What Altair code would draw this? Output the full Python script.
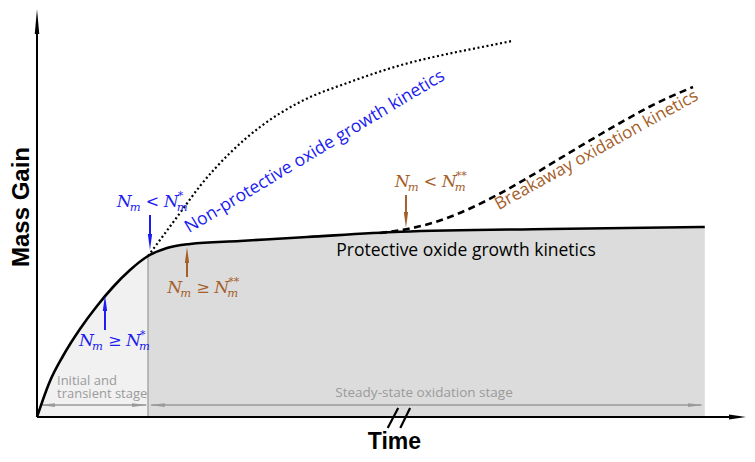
import altair as alt
import pandas as pd

# ---------------- data (arbitrary units: time, mass gain) ----------------
# Protective oxide growth curve (solid)
prot_t = [0, 1.86, 3.71, 6.14, 8.57, 10.86, 13.29, 15.86, 18.57, 21.86, 29, 38.6, 51.9, 73.3, 95.4]
prot_m = [0, 9.0, 15.25, 22.0, 27.75, 32.5, 36.75, 40.25, 42.25, 43.25, 44, 45, 46.3, 47, 47.5]
# Non-protective oxide growth (dotted)
nonprot_t = [15.86, 17.57, 20.43, 23.29, 27.57, 31.86, 37.57, 44.71, 51.86, 59, 63.3, 67.86]
nonprot_m = [40.25, 44.25, 51, 57.75, 66, 72.5, 78.75, 83.75, 87.9, 90.9, 92.4, 94]
# Breakaway oxidation (dashed)
brk_t = [49.0, 53.29, 57.57, 61.86, 66.14, 70.43, 74.71, 79.0, 83.29, 87.57, 93.71]
brk_m = [46.0, 47.13, 49.13, 52.13, 55.88, 60.13, 64.63, 69.13, 73.5, 77.63, 82.5]
stage_boundary = 15.86

# math-label anchors (left, baseline)
math_t = [11.4, 6.0, 18.6, 51.1]
math_m = [52.5, 17.8, 31.0, 57.5]
math_rel = ["<", "\u2265", "\u2265", "<"]
math_sup = ["*", "*", "**", "**"]
math_col = ["blue", "blue", "brown", "brown"]

BLUE = "#1c1cf0"
BROWN = "#a5602a"
GRAY = "#9a9a9a"
colmap = {"blue": BLUE, "brown": BROWN}

X_DOMAIN = [-4.143, 101.43]
Y_DOMAIN = [-9.25, 102.25]
xs = alt.Scale(domain=X_DOMAIN, nice=False, zero=False)
ys = alt.Scale(domain=Y_DOMAIN, nice=False, zero=False)


def X(f="t"):
    return alt.X(f"{f}:Q", scale=xs, axis=None)


def Y(f="m"):
    return alt.Y(f"{f}:Q", scale=ys, axis=None)


prot = pd.DataFrame({"t": prot_t, "m": prot_m})
light = prot[prot.t <= stage_boundary]
dark = prot[prot.t >= stage_boundary]
nonprot = pd.DataFrame({"t": nonprot_t, "m": nonprot_m})
brk = pd.DataFrame({"t": brk_t, "m": brk_m})

area_light = alt.Chart(light).mark_area(color="#f1f1f1", interpolate="monotone").encode(
    x=X(), y=Y(), y2=alt.datum(0))
area_dark = alt.Chart(dark).mark_area(color="#dcdcdc", interpolate="monotone").encode(
    x=X(), y=Y(), y2=alt.datum(0))

sep = alt.Chart(pd.DataFrame({"t": [stage_boundary], "m": [0], "m2": [40.2]})).mark_rule(
    color="#a8a8a8", strokeWidth=1.5).encode(x=X(), y=Y(), y2=alt.Y2("m2:Q"))

line_prot = alt.Chart(prot).mark_line(color="black", strokeWidth=2.6, interpolate="monotone").encode(
    x=X(), y=Y())
line_non = alt.Chart(nonprot).mark_line(color="black", strokeWidth=2.2, strokeDash=[2, 2.6],
                                        interpolate="monotone").encode(x=X(), y=Y())
line_brk = alt.Chart(brk).mark_line(color="black", strokeWidth=2.6, strokeDash=[7, 4.5],
                                    interpolate="monotone").encode(x=X(), y=Y())

# axes
axes = alt.Chart(pd.DataFrame({"t": [0, 0], "m": [0, 0], "t2": [0, 99.6], "m2": [97.5, 0]})).mark_rule(
    color="black", strokeWidth=2).encode(x=X(), y=Y(), x2=alt.X2("t2:Q"), y2=alt.Y2("m2:Q"))
head_up_axis = alt.Chart(pd.DataFrame({"t": [0], "m": [98.9]})).mark_point(
    shape="M0,-1L0.18,1L-0.18,1Z", size=625, filled=True, opacity=1, color="black", strokeWidth=0
).encode(x=X(), y=Y())
head_right_axis = alt.Chart(pd.DataFrame({"t": [100.07], "m": [0]})).mark_point(
    shape="M1,0L-1,0.3L-1,-0.3Z", size=289, filled=True, opacity=1, color="black", strokeWidth=0
).encode(x=X(), y=Y())

# axis break "//"
breaks = alt.Chart(pd.DataFrame({"t": [50.1, 51.9], "m": [-2.75, -2.75], "t2": [51.6, 53.3], "m2": [2.25, 2.25]})
                   ).mark_rule(color="black", strokeWidth=2.2).encode(
    x=X(), y=Y(), x2=alt.X2("t2:Q"), y2=alt.Y2("m2:Q"))

# stage double arrows (gray)
stage_rules = alt.Chart(pd.DataFrame({"t": [0.6, 16.3], "t2": [15.6, 94.9], "m": [3, 3]})).mark_rule(
    color=GRAY, strokeWidth=1.5).encode(x=X(), x2=alt.X2("t2:Q"), y=Y())
stage_left = alt.Chart(pd.DataFrame({"t": [1.5, 17.2], "m": [3, 3]})).mark_point(
    shape="M-1,0L1,-0.25L1,0.25Z", size=225, filled=True, opacity=1, color=GRAY, strokeWidth=0
).encode(x=X(), y=Y())
stage_right = alt.Chart(pd.DataFrame({"t": [14.64, 94.07], "m": [3, 3]})).mark_point(
    shape="M1,0L-1,-0.25L-1,0.25Z", size=225, filled=True, opacity=1, color=GRAY, strokeWidth=0
).encode(x=X(), y=Y())

# condition arrows
arr = pd.DataFrame({
    "t": [16.14, 9.71, 21.43, 52.71],
    "m": [50.5, 21.75, 35.0, 55.5],
    "m2": [44.5, 28.0, 40.0, 50.0],
    "head": [43.75, 28.5, 40.5, 49.25],
    "col": [BLUE, BLUE, BROWN, BROWN],
    "dir": ["down", "up", "up", "down"],
})
arrow_shafts = alt.Chart(arr).mark_rule(strokeWidth=2).encode(
    x=X(), y=Y(), y2=alt.Y2("m2:Q"), color=alt.Color("col:N", scale=None))
arrow_down = alt.Chart(arr[arr.dir == "down"]).mark_point(
    shape="M0,1L0.27,-1L-0.27,-1Z", size=256, filled=True, opacity=1, strokeWidth=0).encode(
    x=X(), y=Y("head"), color=alt.Color("col:N", scale=None))
arrow_up = alt.Chart(arr[arr.dir == "up"]).mark_point(
    shape="M0,-1L0.27,1L-0.27,1Z", size=256, filled=True, opacity=1, strokeWidth=0).encode(
    x=X(), y=Y("head"), color=alt.Color("col:N", scale=None))

# math labels  N_m < N_m^*
math = pd.DataFrame({"t": math_t, "m": math_m, "rel": math_rel, "sup": math_sup,
                     "col": [colmap[c] for c in math_col]})
SERIF = "DejaVu Serif"


def piece(text, dx, dy, size, italic=True, field=None):
    kw = dict(font=SERIF, fontSize=size, dx=dx, dy=dy, align="left", baseline="alphabetic")
    if italic:
        kw["fontStyle"] = "italic"
    if field is None:
        kw["text"] = text
        ch = alt.Chart(math).mark_text(**kw).encode(x=X(), y=Y(), color=alt.Color("col:N", scale=None))
    else:
        ch = alt.Chart(math).mark_text(**kw).encode(x=X(), y=Y(), text=f"{field}:N",
                                                    color=alt.Color("col:N", scale=None))
    return ch


math_layers = [
    piece("N", 0, 0, 17),
    piece("m", 13, 4, 11.5),
    piece(None, 29, 0, 16, italic=False, field="rel"),
    piece("N", 47, 0, 17),
    piece("m", 60, 4, 11.5),
    piece(None, 61, -8, 11, italic=False, field="sup"),
]

# text annotations
SANS = "Open Sans"
txt_non = alt.Chart(pd.DataFrame({"t": [40.07], "m": [65.25], "s": ["Non-protective oxide growth kinetics"]})
                    ).mark_text(font=SANS, fontSize=17.5, color=BLUE, angle=329, align="center",
                                baseline="alphabetic").encode(x=X(), y=Y(), text="s:N")
txt_brk = alt.Chart(pd.DataFrame({"t": [80.29], "m": [65.6], "s": ["Breakaway oxidation kinetics"]})
                    ).mark_text(font=SANS, fontSize=17, color=BROWN, angle=331, align="center",
                                baseline="alphabetic").encode(x=X(), y=Y(), text="s:N")
txt_prot = alt.Chart(pd.DataFrame({"t": [61.29], "m": [40.25], "s": ["Protective oxide growth kinetics"]})
                     ).mark_text(font=SANS, fontSize=17.5, color="black", align="center",
                                 baseline="alphabetic").encode(x=X(), y=Y(), text="s:N")
txt_init = alt.Chart(pd.DataFrame({"t": [2.86, 2.86], "m": [8.0, 4.8], "s": ["Initial and", "transient stage"]})
                     ).mark_text(font=SANS, fontSize=13, color=GRAY, align="left",
                                 baseline="alphabetic").encode(x=X(), y=Y(), text="s:N")
txt_steady = alt.Chart(pd.DataFrame({"t": [55.29], "m": [5.0], "s": ["Steady-state oxidation stage"]})
                       ).mark_text(font=SANS, fontSize=13.5, color=GRAY, align="center",
                                   baseline="alphabetic").encode(x=X(), y=Y(), text="s:N")
txt_time = alt.Chart(pd.DataFrame({"t": [51.07], "m": [-7.9], "s": ["Time"]})
                     ).mark_text(font="Liberation Sans", fontSize=23, fontWeight="bold", color="black",
                                 align="center", baseline="alphabetic").encode(x=X(), y=Y(), text="s:N")
txt_mass = alt.Chart(pd.DataFrame({"t": [-2.1], "m": [52.5], "s": ["Mass Gain"]})
                     ).mark_text(font="Liberation Sans", fontSize=24, fontWeight="bold", color="black",
                                 angle=270, align="center", baseline="middle").encode(x=X(), y=Y(), text="s:N")

chart = alt.layer(
    area_light, area_dark, sep, stage_rules, stage_left, stage_right,
    line_non, line_brk, line_prot,
    axes, head_up_axis, head_right_axis, breaks,
    arrow_shafts, arrow_down, arrow_up,
    *math_layers,
    txt_non, txt_brk, txt_prot, txt_init, txt_steady, txt_time, txt_mass,
).properties(
    width=739, height=446, padding=0, autosize="none"
).configure_view(stroke=None)

chart.save("out.html", embed_options={"renderer": "svg", "actions": False})
